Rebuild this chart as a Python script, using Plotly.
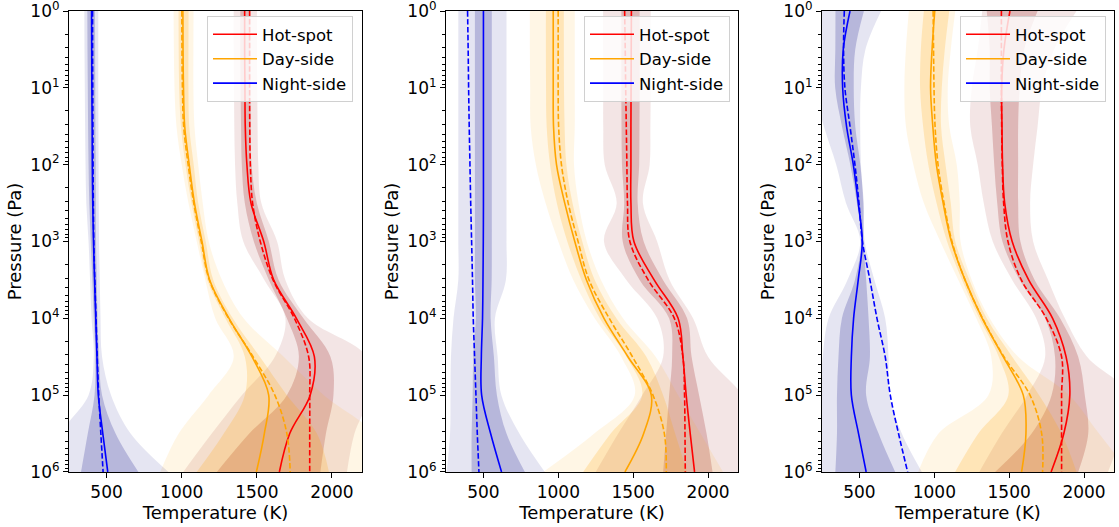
import plotly.graph_objects as go

# ---------------- data ----------------
PRESSURE = [1, 3.162, 10, 31.62, 100, 316.2, 1000, 3162, 1e4, 3.162e4, 1e5, 3.162e5, 1e6]
X_TICKS = [500, 1000, 1500, 2000]
Y_TICKS = [1, 10, 100, 1000, 1e4, 1e5, 1e6]
Y_TICK_TEXT = ["10<sup>0</sup>", "10<sup>1</sup>", "10<sup>2</sup>", "10<sup>3</sup>",
               "10<sup>4</sup>", "10<sup>5</sup>", "10<sup>6</sup>"]
SERIES = ["Hot-spot", "Day-side", "Night-side"]

# Panel 1
p1_hot_line = [1419, 1419, 1421, 1423, 1434, 1461, 1546, 1612, 1763, 1883, 1855, 1719, 1650]
p1_hot_dash = [1452, 1452, 1452, 1453, 1457, 1472, 1523, 1608, 1750, 1845, 1852, 1852, 1852]
p1_hot_in_lo = [1390, 1390, 1392, 1395, 1400, 1420, 1480, 1580, 1700, 1780, 1700, 1450, 1234]
p1_hot_in_hi = [1457, 1457, 1458, 1460, 1465, 1500, 1580, 1645, 1810, 1990, 2010, 1960, 1923]
p1_hot_out_lo = [1346, 1346, 1348, 1350, 1355, 1370, 1410, 1550, 1690, 1620, 1400, 1200, 1010]
p1_hot_out_hi = [1501, 1501, 1503, 1505, 1510, 1530, 1635, 1690, 1840, 2230, 2250, 2150, 2100]

p1_day_line = [1008, 1009, 1012, 1020, 1050, 1085, 1135, 1186, 1315, 1468, 1579, 1550, 1497]
p1_day_dash = [1001, 1002, 1005, 1013, 1043, 1080, 1130, 1184, 1312, 1475, 1620, 1700, 1722]
p1_day_in_lo = [979, 980, 983, 995, 1025, 1065, 1115, 1170, 1290, 1420, 1420, 1280, 1100]
p1_day_in_hi = [1046, 1045, 1045, 1050, 1080, 1110, 1160, 1210, 1340, 1520, 1700, 1900, 1980]
p1_day_out_lo = [946, 948, 952, 965, 1000, 1045, 1100, 1157, 1223, 1346, 1179, 980, 857]
p1_day_out_hi = [1079, 1078, 1078, 1085, 1110, 1140, 1180, 1268, 1412, 1679, 1946, 2280, 2400]

p1_night_line = [400, 401, 402, 404, 405, 408, 413, 420, 428, 436, 445, 475, 508]
p1_night_dash = [407, 407, 408, 409, 410, 412, 415, 422, 430, 438, 448, 462, 477]
p1_night_in_lo = [372, 373, 375, 377, 380, 385, 395, 405, 415, 425, 420, 375, 330]
p1_night_in_hi = [423, 424, 425, 426, 428, 429, 430, 435, 440, 450, 470, 560, 712]
p1_night_out_lo = [352, 353, 355, 357, 360, 365, 380, 390, 400, 415, 380, 200, 150]
p1_night_out_hi = [445, 445, 445, 446, 447, 448, 450, 455, 460, 470, 530, 660, 912]

# Panel 2
p2_hot_line = [1488, 1487, 1486, 1485, 1485, 1485, 1505, 1640, 1800, 1832, 1854, 1881, 1910]
p2_hot_dash = [1443, 1447, 1450, 1454, 1458, 1462, 1478, 1600, 1775, 1832, 1843, 1846, 1848]
p2_hot_in_lo = [1421, 1421, 1421, 1422, 1425, 1440, 1430, 1543, 1740, 1760, 1740, 1720, 1700]
p2_hot_in_hi = [1543, 1543, 1543, 1542, 1540, 1530, 1570, 1699, 1860, 1890, 1940, 1990, 2030]
p2_hot_out_lo = [1299, 1299, 1300, 1300, 1310, 1390, 1305, 1454, 1660, 1700, 1560, 1400, 1250]
p2_hot_out_hi = [1617, 1617, 1617, 1615, 1610, 1565, 1660, 1743, 1900, 2000, 2230, 2350, 2350]

p2_day_line = [966, 966, 966, 968, 988, 1043, 1110, 1188, 1305, 1465, 1621, 1570, 1445]
p2_day_dash = [999, 999, 999, 1002, 1021, 1066, 1132, 1205, 1340, 1495, 1632, 1708, 1721]
p2_day_in_lo = [917, 917, 918, 922, 945, 990, 1060, 1154, 1277, 1455, 1560, 1350, 1166]
p2_day_in_hi = [1037, 1037, 1038, 1042, 1054, 1095, 1160, 1243, 1388, 1588, 1700, 1780, 1860]
p2_day_out_lo = [810, 810, 812, 815, 850, 915, 1000, 1100, 1243, 1420, 1510, 1240, 899]
p2_day_out_hi = [1110, 1110, 1110, 1110, 1105, 1135, 1190, 1285, 1432, 1650, 1800, 1950, 2100]

p2_night_line = [500, 500, 500, 500, 500, 500, 499, 497, 494, 486, 488, 548, 621]
p2_night_dash = [394, 398, 401, 405, 410, 415, 421, 427, 432, 441, 450, 459, 470]
p2_night_in_lo = [443, 443, 443, 443, 443, 443, 443, 443, 449, 432, 428, 421, 421]
p2_night_in_hi = [556, 556, 556, 556, 556, 556, 556, 555, 548, 570, 590, 654, 777]
p2_night_out_lo = [332, 332, 332, 332, 332, 332, 332, 332, 300, 283, 280, 277, 254]
p2_night_out_hi = [654, 654, 654, 654, 654, 654, 654, 650, 577, 595, 620, 740, 910]

# Panel 3
p3_hot_line = [1505, 1465, 1450, 1452, 1456, 1470, 1520, 1630, 1790, 1880, 1905, 1865, 1780]
p3_hot_dash = [1448, 1448, 1448, 1450, 1454, 1463, 1492, 1581, 1748, 1850, 1850, 1850, 1850]
p3_hot_in_lo = [1350, 1370, 1370, 1385, 1400, 1420, 1455, 1570, 1740, 1806, 1783, 1650, 1406]
p3_hot_in_hi = [1690, 1600, 1570, 1560, 1560, 1560, 1575, 1670, 1840, 1961, 2005, 2028, 1961]
p3_hot_out_lo = [1320, 1290, 1250, 1240, 1290, 1330, 1390, 1520, 1680, 1740, 1620, 1450, 1300]
p3_hot_out_hi = [1950, 1800, 1720, 1690, 1660, 1640, 1660, 1760, 1872, 2020, 2300, 2250, 2160]

p3_day_line = [1003, 985, 975, 990, 1014, 1059, 1114, 1205, 1320, 1460, 1594, 1612, 1583]
p3_day_dash = [992, 995, 998, 1005, 1025, 1065, 1118, 1205, 1322, 1465, 1639, 1717, 1723]
p3_day_in_lo = [930, 910, 905, 925, 960, 1015, 1085, 1185, 1300, 1430, 1494, 1294, 1139]
p3_day_in_hi = [1100, 1070, 1050, 1045, 1075, 1110, 1140, 1235, 1350, 1520, 1700, 1850, 1950]
p3_day_out_lo = [830, 810, 800, 810, 860, 930, 1040, 1160, 1280, 1380, 1361, 1028, 892]
p3_day_out_hi = [1140, 1110, 1090, 1100, 1150, 1170, 1175, 1250, 1370, 1560, 1900, 2100, 2300]

p3_night_line = [437, 392, 388, 414, 459, 492, 519, 492, 461, 446, 446, 494, 545]
p3_night_dash = [399, 394, 403, 437, 470, 497, 520, 570, 617, 672, 706, 761, 822]
p3_night_in_lo = [340, 339, 338, 383, 439, 483, 512, 470, 383, 360, 350, 350, 339]
p3_night_in_hi = [530, 472, 462, 472, 506, 528, 528, 545, 561, 570, 545, 628, 739]
p3_night_out_lo = [200, 200, 200, 262, 345, 410, 505, 420, 294, 255, 240, 240, 240]
p3_night_out_hi = [645, 540, 510, 505, 510, 525, 535, 600, 672, 694, 700, 783, 917]

# ---------------- styling ----------------
LINE_COLORS = {"Hot-spot": "#ff0000", "Day-side": "#ffa500", "Night-side": "#0000ff"}
BAND_RGB = {"Hot-spot": "139,0,0", "Day-side": "255,165,0", "Night-side": "0,0,128"}
FONT = "DejaVu Sans"

panels = [
    {
        "Hot-spot": (p1_hot_line, p1_hot_dash, p1_hot_in_lo, p1_hot_in_hi, p1_hot_out_lo, p1_hot_out_hi),
        "Day-side": (p1_day_line, p1_day_dash, p1_day_in_lo, p1_day_in_hi, p1_day_out_lo, p1_day_out_hi),
        "Night-side": (p1_night_line, p1_night_dash, p1_night_in_lo, p1_night_in_hi, p1_night_out_lo, p1_night_out_hi),
    },
    {
        "Hot-spot": (p2_hot_line, p2_hot_dash, p2_hot_in_lo, p2_hot_in_hi, p2_hot_out_lo, p2_hot_out_hi),
        "Day-side": (p2_day_line, p2_day_dash, p2_day_in_lo, p2_day_in_hi, p2_day_out_lo, p2_day_out_hi),
        "Night-side": (p2_night_line, p2_night_dash, p2_night_in_lo, p2_night_in_hi, p2_night_out_lo, p2_night_out_hi),
    },
    {
        "Hot-spot": (p3_hot_line, p3_hot_dash, p3_hot_in_lo, p3_hot_in_hi, p3_hot_out_lo, p3_hot_out_hi),
        "Day-side": (p3_day_line, p3_day_dash, p3_day_in_lo, p3_day_in_hi, p3_day_out_lo, p3_day_out_hi),
        "Night-side": (p3_night_line, p3_night_dash, p3_night_in_lo, p3_night_in_hi, p3_night_out_lo, p3_night_out_hi),
    },
]

W, H = 1119, 527
x_px = [(69, 362), (446, 738), (822, 1114)]
y_px = (11, 472)
legend_right_px = [353, 730, 1106]

fig = go.Figure()

for i, panel in enumerate(panels):
    sfx = "" if i == 0 else str(i + 1)
    xa, ya = "x" + sfx, "y" + sfx
    legend_name = "legend" + sfx
    # bands
    for name in SERIES:
        line, dash, in_lo, in_hi, out_lo, out_hi = panel[name]
        rgb = BAND_RGB[name]
        for lo, hi, alpha in ((out_lo, out_hi, 0.10), (in_lo, in_hi, 0.20)):
            fig.add_trace(go.Scatter(x=lo, y=PRESSURE, xaxis=xa, yaxis=ya, mode="lines",
                                     line=dict(width=0, shape="spline", smoothing=1.0),
                                     showlegend=False, hoverinfo="skip"))
            fig.add_trace(go.Scatter(x=hi, y=PRESSURE, xaxis=xa, yaxis=ya, mode="lines",
                                     line=dict(width=0, shape="spline", smoothing=1.0),
                                     fill="tonextx", fillcolor=f"rgba({rgb},{alpha})",
                                     showlegend=False, hoverinfo="skip"))
    # lines
    for name in SERIES:
        line, dash, *_ = panel[name]
        fig.add_trace(go.Scatter(x=line, y=PRESSURE, xaxis=xa, yaxis=ya, mode="lines",
                                 line=dict(color=LINE_COLORS[name], width=1.6, shape="spline"),
                                 name=name, legend=legend_name, showlegend=True))
        fig.add_trace(go.Scatter(x=dash, y=PRESSURE, xaxis=xa, yaxis=ya, mode="lines",
                                 line=dict(color=LINE_COLORS[name], width=1.6, shape="spline",
                                           dash="5.5px,2.4px"),
                                 showlegend=False))

    x0, x1 = x_px[i]
    fig.layout["xaxis" + sfx] = dict(
        domain=[x0 / W, x1 / W], anchor=ya, range=[250, 2200],
        tickvals=X_TICKS, ticks="outside", ticklen=5, tickwidth=1.1, tickcolor="black",
        showline=True, linecolor="black", linewidth=1.1, mirror=True,
        showgrid=False, zeroline=False,
        tickfont=dict(family=FONT, size=17, color="black"),
        title=dict(text="Temperature (K)", font=dict(family=FONT, size=18, color="black"), standoff=4),
        automargin=False, ticklabeloverflow="allow",
    )
    fig.layout["yaxis" + sfx] = dict(
        domain=[1 - y_px[1] / H, 1 - y_px[0] / H], anchor=xa, type="log", range=[6.0005, -0.0005],
        tickvals=Y_TICKS, ticktext=Y_TICK_TEXT,
        ticks="outside", ticklen=5, tickwidth=1.1, tickcolor="black",
        minor=dict(tickvals=[m * 10 ** k for k in range(6) for m in range(2, 10)],
                   ticks="outside", ticklen=3, tickwidth=0.8, tickcolor="black", showgrid=False),
        showline=True, linecolor="black", linewidth=1.1, mirror=True,
        showgrid=False, zeroline=False,
        tickfont=dict(family=FONT, size=17, color="black"),
        title=dict(text="Pressure (Pa)", font=dict(family=FONT, size=18, color="black"), standoff=4),
        automargin=False, ticklabeloverflow="allow",
    )
    fig.layout[legend_name] = dict(
        x=legend_right_px[i] / W, y=1 - 16 / H, xanchor="right", yanchor="top",
        bgcolor="rgba(255,255,255,0.8)", bordercolor="#d0d0d0", borderwidth=1,
        font=dict(family=FONT, size=16.5, color="black"), traceorder="normal",
        tracegroupgap=0, itemwidth=44,
    )

fig.update_layout(
    width=W, height=H, margin=dict(l=0, r=0, t=0, b=0),
    paper_bgcolor="white", plot_bgcolor="white",
    font=dict(family=FONT, color="black"),
)

fig.write_html("out.html", config={"displayModeBar": False},
               post_script="document.body.style.margin='0px';")
